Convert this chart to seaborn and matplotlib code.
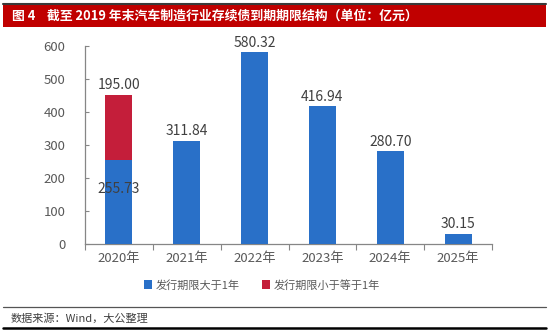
import matplotlib
matplotlib.use("Agg")
import matplotlib.pyplot as plt
from matplotlib.patches import Rectangle, Patch
from matplotlib.lines import Line2D
import seaborn as sns
import pandas as pd

years = ["2020年", "2021年", "2022年", "2023年", "2024年", "2025年"]
long_term = [255.73, 311.84, 580.32, 416.94, 280.70, 30.15]
short_term = [195.00, 0, 0, 0, 0, 0]
series_names = ["发行期限大于1年", "发行期限小于等于1年"]
title = "图 4    截至 2019 年末汽车制造行业存续债到期期限结构（单位：亿元）"
source = "数据来源：Wind，大公整理"

BLUE = "#2970C8"
RED = "#C41E3A"

sns.set_theme(style="white")
plt.rcParams["font.family"] = ["Noto Sans CJK SC", "DejaVu Sans"]

df = pd.DataFrame({"year": years, "long": long_term, "short": short_term})
df["total"] = df["long"] + df["short"]

fig = plt.figure(figsize=(5.5, 3.3), dpi=100)
ax = fig.add_axes([85 / 550, 1 - 244 / 330, 407 / 550, 198 / 330])

sns.barplot(data=df, x="year", y="total", color=RED, width=0.4, saturation=1,
            order=years, ax=ax, zorder=2, linewidth=0)
sns.barplot(data=df, x="year", y="long", color=BLUE, width=0.4, saturation=1,
            order=years, ax=ax, zorder=3, linewidth=0)

red_bars = ax.containers[0]
blue_bars = ax.containers[1]

lbl_kw = dict(fontsize=10, color="#404040")
ax.bar_label(red_bars, labels=[f"{v:.2f}" if v > 0 else "" for v in short_term],
             padding=2, **lbl_kw)
ax.bar_label(blue_bars, labels=[f"{l:.2f}" if s > 0 else "" for l, s in zip(long_term, short_term)],
             label_type="center", padding=9, **lbl_kw)
ax.bar_label(blue_bars, labels=[f"{l:.2f}" if s == 0 else "" for l, s in zip(long_term, short_term)],
             padding=2, **lbl_kw)

ax.set_xlim(-0.5, len(years) - 0.5)
ax.set_ylim(0, 600)
ax.set_yticks(range(0, 601, 100))
ax.set_xticks([i - 0.5 for i in range(len(years) + 1)])
ax.set_xticklabels([])
ax.set_xticks(range(len(years)), minor=True)
ax.set_xticklabels(years, minor=True)
ax.set_xlabel("")
ax.set_ylabel("")

for s in ["top", "right"]:
    ax.spines[s].set_visible(False)
for s in ["left", "bottom"]:
    ax.spines[s].set_color("#868686")
    ax.spines[s].set_linewidth(0.9)

ax.tick_params(axis="y", which="major", direction="in", length=3, width=0.8,
               color="#868686", labelsize=9.5, labelcolor="#595959", pad=14, left=True)
ax.tick_params(axis="x", which="major", direction="out", length=4, width=0.8,
               color="#868686", bottom=True)
ax.tick_params(axis="x", which="minor", length=0, labelsize=9.5,
               labelcolor="#595959", pad=6, bottom=True)

handles = [Patch(facecolor=BLUE, edgecolor="none"), Patch(facecolor=RED, edgecolor="none")]
fig.legend(handles, series_names, loc="center", bbox_to_anchor=(262 / 550, 1 - 285 / 330),
           ncol=2, frameon=False, fontsize=8, handlelength=0.75, handleheight=0.75,
           handletextpad=0.3, columnspacing=2.0, labelcolor="#595959")

fig.add_artist(Rectangle((3 / 550, 1 - 27 / 330), 543 / 550, 23 / 330,
                         transform=fig.transFigure, facecolor="#C00000", edgecolor="none"))
fig.add_artist(Line2D([3 / 550, 546 / 550], [1 - 3.5 / 330] * 2, transform=fig.transFigure,
                      color="#3A3A3A", lw=1.5))
fig.text(12 / 550, 1 - 16 / 330, title, color="white", fontsize=9.3, fontweight="bold",
         va="center", ha="left")

fig.add_artist(Line2D([3 / 550, 546 / 550], [1 - 307 / 330] * 2, transform=fig.transFigure,
                      color="#555555", lw=0.9))
fig.add_artist(Line2D([3 / 550, 546 / 550], [1 - 328 / 330] * 2, transform=fig.transFigure,
                      color="#000000", lw=1.8))
fig.text(11 / 550, 1 - 318 / 330, source, color="#404040", fontsize=8, style="italic",
         va="center", ha="left")

fig.savefig("out.png", dpi=100)
